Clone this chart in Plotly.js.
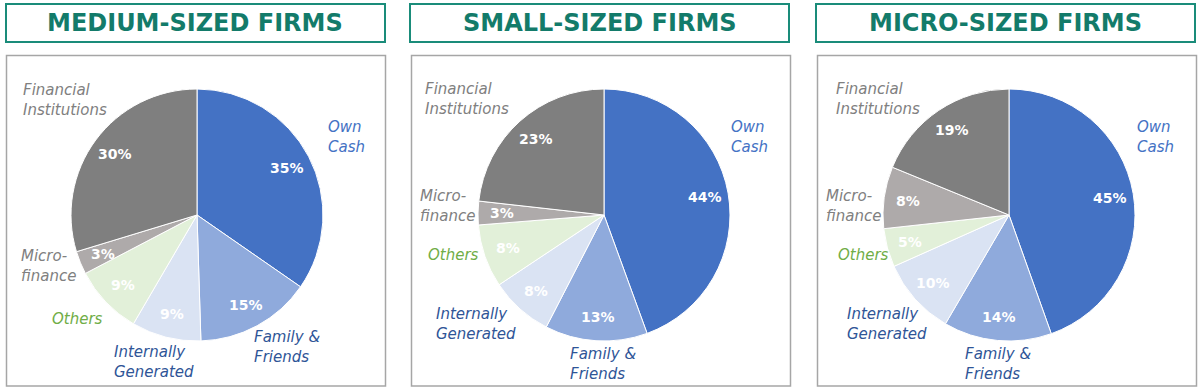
<!DOCTYPE html>
<html>
<head>
<meta charset="utf-8">
<script src="https://cdn.plot.ly/plotly-3.0.1.min.js"></script>
<style>
html,body{margin:0;padding:0;background:#fff;}
#chart{width:1200px;height:391px;}
</style>
</head>
<body>
<div id="chart"></div>
<script>
// ---- Data ----
const panelTitles = ['MEDIUM-SIZED FIRMS', 'SMALL-SIZED FIRMS', 'MICRO-SIZED FIRMS'];
const categories = ['Own Cash', 'Family & Friends', 'Internally Generated', 'Others', 'Micro-finance', 'Financial Institutions'];
const categoryText = ['Own<br>Cash', 'Family &<br>Friends', 'Internally<br>Generated', 'Others', 'Micro-<br>finance', 'Financial<br>Institutions'];
const mediumValues = [35, 15, 9, 9, 3, 30];
const smallValues  = [44, 13, 8, 8, 3, 23];
const microValues  = [45, 14, 10, 5, 8, 19];

// ---- Styles / layout ----
const sliceColors = ['#4472C4', '#8FAADC', '#DAE3F3', '#E2F0D9', '#AEAAAA', '#7F7F7F'];
const labelColors = ['#4472C4', '#2F5597', '#2F5597', '#70AD47', '#808080', '#808080'];
const W = 1200, H = 391;
const R = 126;
const centers = [[197, 215], [604, 215], [1009, 215]];
const titleBoxes = [[5, 386], [409, 790], [815, 1196]];
const chartBoxes = [[6, 386], [411, 791], [817, 1197]];
// category label anchor (left x, middle y) per panel
const labelPos = [
  [[327,137],[253,347],[113,362],[51,319],[20,266],[22,100]],
  [[730,137],[569,364],[435,324],[427,255],[419,206],[424,99]],
  [[1136,137],[964,364],[846,324],[837,255],[825,206],[835,99]]
];

const px = x => x / W;
const py = y => 1 - y / H;

const allValues = [mediumValues, smallValues, microValues];
const traces = [];
const annotations = [];
const shapes = [];

allValues.forEach((vals, p) => {
  const [cx, cy] = centers[p];
  traces.push({
    type: 'pie',
    values: vals,
    labels: categories,
    sort: false,
    direction: 'clockwise',
    rotation: 0,
    textinfo: 'none',
    textposition: 'none',
    hoverinfo: 'label+value',
    marker: {colors: sliceColors, line: {color: '#ffffff', width: 1}},
    domain: {x: [px(cx - R), px(cx + R)], y: [py(cy + R), py(cy - R)]},
    showlegend: false
  });
  // percentage labels
  const total = vals.reduce((a, b) => a + b, 0);
  let cum = 0;
  vals.forEach((v, i) => {
    const mid = (cum + v / 2) / total * 2 * Math.PI;
    cum += v;
    const k = 0.81;
    annotations.push({
      xref: 'paper', yref: 'paper',
      x: px(cx + k * R * Math.sin(mid)), y: py(cy - k * R * Math.cos(mid)),
      xanchor: 'center', yanchor: 'middle',
      text: '<b>' + v + '%</b>', showarrow: false,
      font: {family: 'DejaVu Sans, Verdana, sans-serif', size: 14, color: '#ffffff'}
    });
    // category labels
    const [lx, ly] = labelPos[p][i];
    annotations.push({
      xref: 'paper', yref: 'paper',
      x: px(lx - 1), y: py(ly),
      xanchor: 'left', yanchor: 'middle', align: 'left',
      text: '<i>' + categoryText[i] + '</i>', showarrow: false,
      font: {family: 'DejaVu Sans, Verdana, sans-serif', size: 15, color: labelColors[i]}
    });
  });
  // title box + title
  const [tx0, tx1] = titleBoxes[p];
  shapes.push({type: 'rect', xref: 'paper', yref: 'paper',
    x0: px(tx0 + 1), x1: px(tx1 - 1), y0: py(42), y1: py(4),
    line: {color: '#1A8C7A', width: 2}, fillcolor: 'rgba(0,0,0,0)'});
  annotations.push({
    xref: 'paper', yref: 'paper', x: px((tx0 + tx1) / 2), y: py(23),
    xanchor: 'center', yanchor: 'middle', showarrow: false,
    text: '<b>' + panelTitles[p] + '</b>',
    font: {family: 'DejaVu Sans, Verdana, sans-serif', size: 24, color: '#137B6A'}
  });
  // chart box
  const [bx0, bx1] = chartBoxes[p];
  shapes.push({type: 'rect', xref: 'paper', yref: 'paper',
    x0: px(bx0 + 0.5), x1: px(bx1 - 0.5), y0: py(386), y1: py(55.5),
    line: {color: '#A6A6A6', width: 1.5}, fillcolor: 'rgba(0,0,0,0)'});
});

const layout = {
  width: W, height: H,
  margin: {l: 0, r: 0, t: 0, b: 0},
  paper_bgcolor: '#ffffff',
  plot_bgcolor: '#ffffff',
  showlegend: false,
  annotations: annotations,
  shapes: shapes
};

Plotly.newPlot('chart', traces, layout, {staticPlot: true, displayModeBar: false});
</script>
</body>
</html>
